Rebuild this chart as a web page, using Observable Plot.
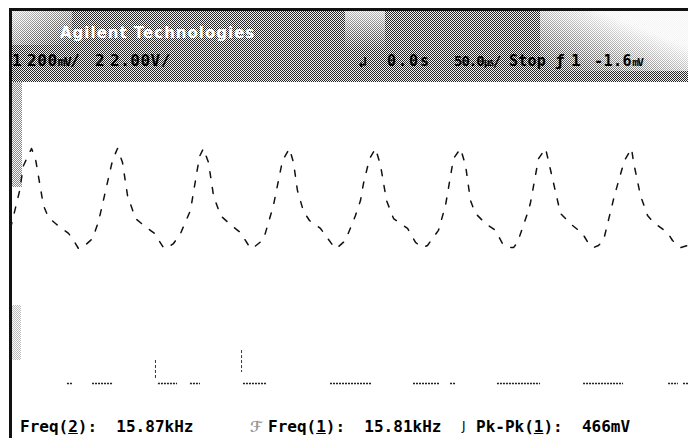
<!DOCTYPE html>
<html>
<head>
<meta charset="utf-8">
<script src="https://cdn.jsdelivr.net/npm/d3@7"></script>
<script src="https://cdn.jsdelivr.net/npm/@observablehq/plot@0.6"></script>
<style>
  html, body { margin: 0; padding: 0; background: #fff; }
  #scope { position: relative; width: 688px; height: 438px; overflow: hidden; background: #fff;
           font-family: "DejaVu Sans Mono", monospace; color: #000; }
  .abs { position: absolute; white-space: pre; }
  .half { background: repeating-conic-gradient(#262626 0% 25%, #f2f2f2 0% 50%) 0 0 / 2px 2px; }
  .hdr { font-weight: bold; font-size: 15px; line-height: 16px; }
  .ftr { font-weight: bold; font-size: 16px; line-height: 18px; }
  .u { font-size: 11px; letter-spacing: -1.5px; }
  #plot { position: absolute; left: 0; top: 88px; }
</style>
</head>
<body>
<div id="scope">
  <!-- frame lines -->
  <div class="abs" style="left:9px;top:8px;width:679px;height:3px;background:#111"></div>
  <div class="abs" style="left:9px;top:8px;width:3px;height:430px;background:#111"></div>
  <!-- header halftone band -->
  <div class="abs half" style="left:12px;top:11px;width:676px;height:71px"></div>
  <div class="abs" style="left:12px;top:11px;width:60px;height:34px;background:linear-gradient(to bottom right, rgba(255,255,255,.8), rgba(255,255,255,0))"></div>
  <div class="abs" style="left:345px;top:11px;width:40px;height:40px;background:linear-gradient(to bottom, rgba(255,255,255,.7), rgba(255,255,255,0))"></div>
  <div class="abs" style="left:540px;top:11px;width:148px;height:60px;background:linear-gradient(to bottom left, rgba(255,255,255,.95) 30%, rgba(255,255,255,0))"></div>
  <!-- left-edge scan hatching -->
  <div class="abs half" style="left:12px;top:82px;width:10px;height:105px;opacity:.55"></div>
  <div class="abs half" style="left:12px;top:305px;width:9px;height:55px;opacity:.3"></div>
  <!-- header texts -->
  <div class="abs" style="left:60px;top:24px;font:bold 15px 'DejaVu Sans';color:#fff;letter-spacing:1px">Agilent Technologies</div>
  <div class="abs hdr" style="left:12px;top:53px;font-size:16px">1</div>
  <div class="abs hdr" style="left:27px;top:53px;font-size:16px;letter-spacing:0.6px">200<span class="u" style="font-size:13px">mV</span>/</div>
  <div class="abs hdr" style="left:95px;top:53px;font-size:16px">2</div>
  <div class="abs hdr" style="left:110px;top:53px;font-size:16px;letter-spacing:0.5px">2.00V/</div>
  <div class="abs hdr" style="left:358px;top:54px">↲</div>
  <div class="abs hdr" style="left:387px;top:53px;letter-spacing:2px">0.0s</div>
  <div class="abs hdr" style="left:454px;top:53px;font-size:14px;letter-spacing:-1px">50.0<span class="u" style="font-size:10px">µs</span>/</div>
  <div class="abs hdr" style="left:509px;top:53px;letter-spacing:0.2px">Stop</div>
  <div class="abs hdr" style="left:555px;top:53px;font-size:16px">ƒ</div>
  <div class="abs hdr" style="left:571px;top:53px;font-size:16px">1</div>
  <div class="abs hdr" style="left:594px;top:53px;letter-spacing:0.5px">-1.6<span class="u">mV</span></div>
  <div id="plot"></div>
  <!-- measurement line -->
  <div class="abs ftr" style="left:20px;top:418px">Freq(<u>2</u>):  15.87kHz</div>
  <div class="abs" style="left:250px;top:418px;font:bold 15px 'DejaVu Sans';color:#999">ℱ</div>
  <div class="abs ftr" style="left:268px;top:418px">Freq(<u>1</u>):  15.81kHz</div>
  <div class="abs" style="left:462px;top:419px;font:12px 'DejaVu Sans'">J</div>
  <div class="abs ftr" style="left:476px;top:418px">Pk-Pk(<u>1</u>):  466mV</div>
</div>
<script>
// Channel 1 (200 mV/div): time in µs (trigger at 0, 50 µs/div), level in mV from screen centre
const ch1Time = [-250.0,-243.4,-240.4,-234.5,-231.6,-225.7,-222.0,-216.8,-213.1,-207.2,-204.3,-199.9,-196.9,-189.5,-185.1,-180.7,-174.8,-171.1,
  -167.4,-163.7,-157.8,-149.7,-143.8,-137.2,-135.0,-129.8,-124.6,-117.3,-110.6,-107.7,-104.0,-100.3,-95.1,-87.8,-80.4,-73.0,-70.8,-63.4,-56.1,
  -49.4,-44.3,-41.3,-38.4,-33.9,-29.5,-21.4,-11.1,-9.6,-3.0,4.4,8.1,10.3,14.8,19.2,22.9,27.3,32.5,42.8,48.7,53.8,57.5,65.6,70.8,76.7,81.9,
  85.6,89.2,92.9,100.3,107.7,112.8,117.3,121.0,123.9,132.0,133.5,139.4,144.6,149.7,155.6,164.5,171.8,176.3,180.0,183.6,187.3,195.4,201.3,
  203.6,208.0,209.5,214.6,219.8,224.2,234.5,238.2,244.1,249.3];
const ch1mV = [149,321,442,521,474,256,200,172,153,126,102,56,60,102,181,302,465,521,
  456,302,195,153,126,60,56,79,126,233,484,521,456,302,209,167,130,56,60,98,256,
  465,521,456,326,228,186,149,60,56,93,209,279,358,474,521,442,279,195,149,84,60,70,140,256,474,521,
  442,279,219,172,140,79,60,60,84,233,270,474,521,381,219,163,126,79,60,70,93,302,433,
  474,521,456,302,209,177,130,93,60,70];

// Channel 2 (2.00 V/div): visible low-level segments (µs) and edge fragments
const ch2Low = -5.72;
const ch2Start = [-208.0,-189.5,-140.9,-117.3,-78.2,-14.0,47.2,74.5,109.1,172.6,235.3,246.3];
const ch2End   = [-204.3,-174.0,-126.8,-109.9,-60.5, 17.0,67.1,78.2,140.9,202.1,242.6,250.0];
const ch2EdgeTime = [-143.1,-79.6];
const ch2EdgeTop = [-4.65,-4.19];
const ch2EdgeBottom = [-5.58,-5.21];

const mVperDiv1 = 200, VperDiv2 = 2.0;

const ch1 = ch1Time.map((t, i) => ({t, div: ch1mV[i] / mVperDiv1}));
const ch2 = ch2Start.map((s, i) => ({x1: s, x2: ch2End[i], div: ch2Low / VperDiv2}));
const edges = ch2EdgeTime.map((t, i) => ({t, y1: ch2EdgeTop[i] / VperDiv2, y2: ch2EdgeBottom[i] / VperDiv2}));

const chart = Plot.plot({
  width: 688,
  height: 350,
  marginLeft: 10,
  marginRight: 0,
  marginTop: 0,
  marginBottom: 6,
  style: {background: "transparent", overflow: "visible"},
  x: {domain: [-250, 250], axis: null},
  y: {domain: [-4, 4], axis: null},
  marks: [
    Plot.line(ch1, {x: "t", y: "div", stroke: "#111", strokeWidth: 1.5, strokeDasharray: "6,10"}),
    Plot.ruleY(ch2, {y: "div", x1: "x1", x2: "x2", stroke: "#222", strokeWidth: 1.4, strokeDasharray: "2,1"}),
    Plot.ruleX(edges, {x: "t", y1: "y1", y2: "y2", stroke: "#333", strokeWidth: 1, strokeDasharray: "3,2"})
  ]
});
document.getElementById("plot").appendChild(chart);
</script>
</body>
</html>
